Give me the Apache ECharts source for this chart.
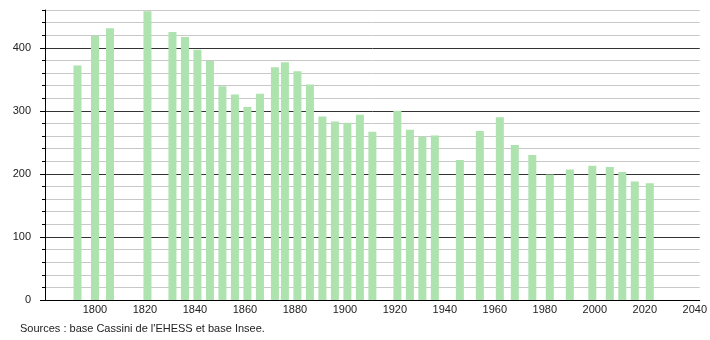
<!DOCTYPE html>
<html>
<head>
<meta charset="utf-8">
<script src="https://cdn.jsdelivr.net/npm/echarts@6/dist/echarts.min.js"></script>
<style>
html,body{margin:0;padding:0;background:#fff;}
#chart{width:710px;height:340px;}
</style>
</head>
<body>
<div id="chart"></div>
<script>
const years = [1793,1800,1806,1821,1831,1836,1841,1846,1851,1856,1861,1866,1872,1876,1881,1886,1891,1896,1901,1906,1911,1921,1926,1931,1936,1946,1954,1962,1968,1975,1982,1990,1999,2006,2011,2016,2022];
const population = [372,419,431,458,425,417,397,379,339,326,306,327,369,377,363,342,291,283,281,294,267,300,270,259,261,222,268,290,246,230,199,207,213,211,203,188,185];
const xTicks = [1800,1820,1840,1860,1880,1900,1920,1940,1960,1980,2000,2020,2040];
const yTicks = [0,100,200,300,400];
const sourceText = "Sources : base Cassini de l'EHESS et base Insee.";

const chart = echarts.init(document.getElementById('chart'), null, {renderer:'canvas'});
const font = 'Liberation Sans, Arial, sans-serif';
chart.setOption({
  animation: false,
  grid: {left: 45, right: 10, top: 10, bottom: 40, containLabel: false},
  xAxis: {
    type: 'value', min: 1780, max: 2042,
    axisLine: {lineStyle: {color: '#000', width: 1}},
    axisTick: {show: false},
    splitLine: {show: false},
    axisLabel: {customValues: xTicks, formatter: v => String(v), color: '#222', fontFamily: font, fontSize: 11, margin: 4}
  },
  yAxis: [{
    type: 'value', min: 0, max: 460, interval: 20,
    axisLine: {show: true, lineStyle: {color: '#000'}},
    axisTick: {show: true, length: 3, lineStyle: {color: '#000'}},
    axisLabel: {show: false},
    splitLine: {show: true, lineStyle: {color: ['#333', '#c8c8c8', '#c8c8c8', '#c8c8c8', '#c8c8c8'], width: 1}}
  }, {
    type: 'value', min: 0, max: 460, position: 'left',
    axisLine: {show: false},
    axisTick: {show: true, length: 5, customValues: yTicks, lineStyle: {color: '#000'}},
    axisLabel: {customValues: yTicks, formatter: v => String(v), color: '#222', fontFamily: font, fontSize: 11, margin: 14},
    splitLine: {show: false}
  }],
  series: [{
    type: 'bar',
    barWidth: 8,
    itemStyle: {color: '#aee2ae'},
    data: years.map((y, i) => [y, population[i]])
  }],
  graphic: [{
    type: 'text', left: 20, top: 323,
    style: {text: sourceText, fill: '#222', font: '11px Liberation Sans, Arial, sans-serif'}
  }]
});
</script>
</body>
</html>
